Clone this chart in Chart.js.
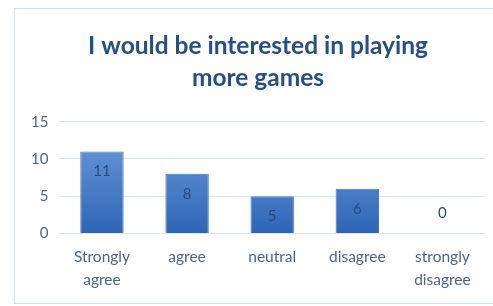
<!DOCTYPE html>
<html><head><meta charset="utf-8">
<script src="https://cdn.jsdelivr.net/npm/chart.js@4/dist/chart.umd.min.js"></script>
<style>
html,body{margin:0;padding:0;background:#fff;width:493px;height:306px;overflow:hidden}
#frame{position:absolute;left:14px;top:8px;width:500px;height:296px;border:1.5px solid #cfe2f6;box-sizing:border-box}
#wrap{position:absolute;left:0;top:0;width:493px;height:306px}
</style></head><body>
<div id="frame"></div>
<div id="wrap"><canvas id="c" width="493" height="306"></canvas></div>
<script>
const categories = [["Strongly","agree"], "agree", "neutral", "disagree", ["strongly","disagree"]];
const values = [11, 8, 5, 6, 0];
const yTicks = [0, 5, 10, 15];
const titleLines = ["I would be interested in playing", "more games"];

const FONT = "Lato, 'Open Sans', sans-serif";
const TITLE_FONT = { family: FONT, size: 24.5, weight: 'bold', lineHeight: 1.3 };

const labelPlugin = {
  id: 'barLabels',
  afterDatasetsDraw(chart) {
    const ctx = chart.ctx;
    const meta = chart.getDatasetMeta(0);
    ctx.save();
    ctx.font = "15px " + FONT;
    ctx.fillStyle = "#2b4a7a";
    ctx.textAlign = "center";
    ctx.textBaseline = "middle";
    meta.data.forEach((bar, i) => {
      const v = values[i];
      const y = v === 0 ? bar.base - 20 : bar.y + 20;
      ctx.fillText(String(v), bar.x, y);
    });
    ctx.restore();
  }
};

// draws the title text (space reserved by the built-in title) centred on the frame
const titlePlugin = {
  id: 'frameTitle',
  afterDraw(chart) {
    const t = chart.titleBlock;
    if (!t) return;
    const ctx = chart.ctx;
    ctx.save();
    ctx.font = "bold " + TITLE_FONT.size + "px " + FONT;
    ctx.fillStyle = '#254f8c';
    ctx.textAlign = 'center';
    ctx.textBaseline = 'middle';
    const lh = TITLE_FONT.size * TITLE_FONT.lineHeight;
    titleLines.forEach((line, i) => {
      ctx.fillText(line, 258, t.top + lh * (i + 0.5));
    });
    ctx.restore();
  }
};

const c = document.getElementById('c');

new Chart(c, {
  type: 'bar',
  data: {
    labels: categories,
    datasets: [{
      data: values,
      backgroundColor: (context) => {
        const area = context.chart.chartArea;
        if (!area) return '#4a7fc4';
        const grad = context.chart.ctx.createLinearGradient(0, area.top + 30, 0, area.bottom);
        grad.addColorStop(0, '#5e8fd3');
        grad.addColorStop(1, '#2e66b5');
        return grad;
      },
      borderColor: '#4677bd',
      borderWidth: 1,
      categoryPercentage: 1.0,
      barPercentage: 0.51
    }]
  },
  options: {
    responsive: false,
    animation: false,
    devicePixelRatio: 1,
    layout: { padding: { left: 20, right: 8, top: 30, bottom: 2 } },
    plugins: {
      legend: { display: false },
      tooltip: { enabled: false },
      title: {
        display: true,
        text: titleLines,
        color: 'rgba(0,0,0,0)',
        font: TITLE_FONT,
        padding: { top: 0, bottom: 28 }
      }
    },
    scales: {
      y: {
        min: 0, max: 15,
        afterBuildTicks: (axis) => { axis.ticks = yTicks.map(v => ({ value: v })); },
        ticks: { color: '#4a6689', font: { family: FONT, size: 15 }, padding: 11 },
        grid: { color: '#d6e6f7', lineWidth: 1, drawTicks: false },
        border: { display: false }
      },
      x: {
        ticks: { color: '#4a6689', font: { family: FONT, size: 15.5, lineHeight: 1.5 }, padding: 12, maxRotation: 0, autoSkip: false },
        grid: { display: false, drawTicks: false },
        border: { display: false }
      }
    }
  },
  plugins: [labelPlugin, titlePlugin]
});
</script>
</body></html>
